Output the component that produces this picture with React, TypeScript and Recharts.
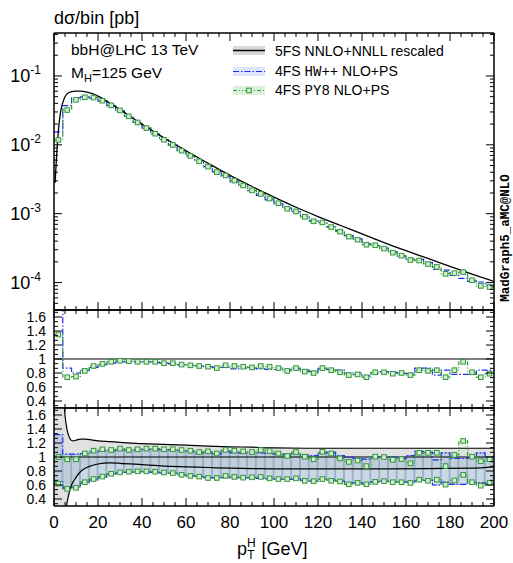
import React from 'react';
import { ComposedChart, Line, Area, Bar, Scatter, XAxis, YAxis, ReferenceLine } from 'recharts';

const FONT = '"Liberation Sans", Arial, Helvetica, sans-serif';
const MONO = '"Liberation Mono", "DejaVu Sans Mono", monospace';
const BLUE = '#1f2cf5';
const GREEN = '#2e9a36';
const W = 513;

// 4 GeV bins, 0..200
const ptEdges = [0, 4, 8, 12, 16, 20, 24, 28, 32, 36, 40, 44, 48, 52, 56, 60, 64, 68, 72, 76, 80, 84, 88, 92, 96, 100,
  104, 108, 112, 116, 120, 124, 128, 132, 136, 140, 144, 148, 152, 156, 160, 164, 168, 172, 176, 180, 184, 188, 192, 196, 200];

// main panel: d sigma / bin [pb]
const hwMain = [0.0154, 0.037, 0.048, 0.0496, 0.0475, 0.0432, 0.0367, 0.0311, 0.0256, 0.0211, 0.0175, 0.01435, 0.01184,
  0.00986, 0.00823, 0.00689, 0.00577, 0.00483, 0.00407, 0.00347, 0.0029, 0.00251, 0.00216, 0.00185, 0.00159, 0.00139,
  0.00121, 0.00107, 0.000924, 0.000795, 0.000739, 0.000648, 0.000568, 0.000482, 0.00043, 0.000365, 0.000344, 0.000316,
  0.000279, 0.000243, 0.000219, 0.000217, 0.000195, 0.000155, 0.000152, 0.000127, 0.000115, 0.000104, 0.000102, 0.0000916];
const py8Main = [0.0118, 0.032, 0.045, 0.049, 0.0486, 0.0437, 0.0374, 0.0316, 0.0259, 0.0211, 0.0175, 0.0145, 0.01184,
  0.00996, 0.00823, 0.00689, 0.00577, 0.00483, 0.00402, 0.00359, 0.00303, 0.00257, 0.00218, 0.00194, 0.00166, 0.00142,
  0.00118, 0.00108, 0.000902, 0.000776, 0.000747, 0.00064, 0.000548, 0.000464, 0.000419, 0.000355, 0.000348, 0.000312,
  0.000272, 0.000246, 0.000213, 0.000209, 0.000186, 0.000169, 0.000134, 0.000137, 0.000142, 0.000108, 0.0000895, 0.0000861];

// 5FS NNLO+NNLL curve
const curvePt = [0.5, 1, 2, 3, 4, 5, 6, 8, 10, 12, 15, 20, 25, 30, 35, 40, 45, 50, 55, 60, 70, 80, 90, 100, 110, 120, 130,
  140, 150, 160, 170, 180, 190, 200];
const curve5fs = [0.0028, 0.0055, 0.016, 0.030, 0.041, 0.050, 0.055, 0.059, 0.060, 0.060, 0.058, 0.051, 0.041, 0.0324,
  0.0254, 0.0200, 0.0158, 0.0126, 0.0102, 0.0082, 0.0054, 0.0036, 0.00248, 0.00174, 0.00124, 0.00091, 0.00068, 0.00051,
  0.00038, 0.00029, 0.000224, 0.000172, 0.000133, 0.000104];

// ratio to 5FS
const hwRatio = [1.8, 0.87, 0.80, 0.84, 0.88, 0.92, 0.94, 0.96, 0.96, 0.96, 0.96, 0.95, 0.94, 0.93, 0.92, 0.91, 0.90, 0.89,
  0.88, 0.88, 0.86, 0.87, 0.87, 0.86, 0.85, 0.85, 0.85, 0.86, 0.84, 0.82, 0.86, 0.85, 0.84, 0.80, 0.80, 0.76, 0.80, 0.82,
  0.81, 0.79, 0.79, 0.87, 0.87, 0.77, 0.84, 0.78, 0.78, 0.78, 0.84, 0.84];
const py8Ratio = [1.35, 0.74, 0.75, 0.83, 0.90, 0.93, 0.96, 0.975, 0.97, 0.96, 0.96, 0.96, 0.94, 0.94, 0.92, 0.91, 0.90,
  0.89, 0.87, 0.91, 0.90, 0.89, 0.88, 0.90, 0.89, 0.87, 0.83, 0.87, 0.82, 0.80, 0.87, 0.84, 0.81, 0.77, 0.78, 0.74, 0.81,
  0.81, 0.79, 0.80, 0.77, 0.84, 0.83, 0.84, 0.74, 0.84, 0.96, 0.81, 0.74, 0.79];

// scale uncertainty, 5FS band
const bandPt = [0, 3, 4, 5, 6, 7, 8, 9, 10, 12, 14, 17, 20, 25, 30, 40, 50, 60, 70, 80, 90, 100, 120, 140, 150, 170, 190, 200];
const bandUp = [3.0, 3.0, 2.1, 1.6, 1.38, 1.28, 1.235, 1.23, 1.24, 1.255, 1.255, 1.245, 1.23, 1.22, 1.21, 1.19, 1.18, 1.17,
  1.155, 1.145, 1.14, 1.13, 1.125, 1.125, 1.125, 1.125, 1.125, 1.125];
const bandDn = [-1, -1, -0.2, 0.15, 0.36, 0.5, 0.6, 0.66, 0.71, 0.79, 0.835, 0.875, 0.9, 0.915, 0.91, 0.89, 0.87, 0.86,
  0.85, 0.84, 0.835, 0.83, 0.83, 0.83, 0.83, 0.835, 0.84, 0.86];

// scale uncertainty, 4FS per bin
const hwUp = [1.32, 1.04, 1.04, 1.05, 1.07, 1.09, 1.09, 1.10, 1.10, 1.10, 1.11, 1.11, 1.10, 1.10, 1.09, 1.08, 1.06, 1.07,
  1.04, 1.08, 1.06, 1.06, 1.06, 1.06, 1.05, 1.04, 1.04, 1.05, 1.03, 1.02, 1.06, 1.07, 1.02, 1.0, 0.98, 0.97, 1.0, 1.01,
  1.0, 0.98, 1.02, 1.08, 1.07, 0.96, 1.06, 0.98, 0.98, 0.99, 1.06, 1.0];
const hwDn = [0.65, 0.56, 0.57, 0.63, 0.67, 0.71, 0.75, 0.77, 0.78, 0.785, 0.785, 0.78, 0.77, 0.765, 0.745, 0.73, 0.72,
  0.705, 0.70, 0.705, 0.70, 0.70, 0.70, 0.695, 0.685, 0.68, 0.68, 0.685, 0.665, 0.655, 0.68, 0.67, 0.655, 0.63, 0.63,
  0.615, 0.64, 0.655, 0.645, 0.64, 0.64, 0.66, 0.665, 0.60, 0.64, 0.61, 0.61, 0.63, 0.63, 0.62];
const py8Up = [1.0, 0.967, 0.967, 1.05, 1.09, 1.11, 1.10, 1.12, 1.10, 1.11, 1.12, 1.12, 1.11, 1.11, 1.10, 1.09, 1.07,
  1.08, 1.05, 1.10, 1.09, 1.08, 1.07, 1.10, 1.085, 1.05, 1.015, 1.07, 1.005, 0.967, 1.075, 1.05, 0.98, 0.93, 0.95, 0.87,
  1.005, 1.0, 0.96, 0.97, 0.91, 1.06, 1.06, 1.06, 0.87, 1.03, 1.23, 1.005, 0.94, 0.967];
const py8Dn = [0.62, 0.545, 0.56, 0.64, 0.685, 0.72, 0.76, 0.78, 0.79, 0.795, 0.795, 0.79, 0.78, 0.77, 0.745, 0.73, 0.72,
  0.70, 0.70, 0.73, 0.715, 0.705, 0.71, 0.715, 0.695, 0.685, 0.685, 0.695, 0.66, 0.655, 0.685, 0.66, 0.65, 0.61, 0.63,
  0.61, 0.645, 0.655, 0.64, 0.64, 0.63, 0.675, 0.66, 0.675, 0.605, 0.665, 0.745, 0.64, 0.59, 0.63];

// axes
const xMajor = [0, 20, 40, 60, 80, 100, 120, 140, 160, 180, 200];
const xMajorLabels = ['0', '20', '40', '60', '80', '100', '120', '140', '160', '180', '200'];
const mainMajor = [1e-4, 1e-3, 1e-2, 1e-1];
const mainMajorLabels = ['-4', '-3', '-2', '-1'];
const ratioMajor = [0.4, 0.6, 0.8, 1, 1.2, 1.4, 1.6];
const ratioMajorLabels = ['0.4', '0.6', '0.8', '1', '1.2', '1.4', '1.6'];
const MAIN_DOMAIN: [number, number] = [4e-5, 0.42];
const RATIO_DOMAIN: [number, number] = [0.3, 1.7];

const xTicks = Array.from({ length: 41 }, (_, i) => i * 5);
const logTicks: number[] = [];
for (const d of [-5, -4, -3, -2, -1]) {
  for (let k = 1; k <= 9; k++) {
    const v = +(k * Math.pow(10, d)).toPrecision(2);
    if (v >= MAIN_DOMAIN[0] && v <= MAIN_DOMAIN[1]) logTicks.push(v);
  }
}
const ratioTicks = Array.from({ length: 21 }, (_, i) => +(1 / 3 + (i * 0.2) / 3).toFixed(4));

// rows
const last = (arr: number[], i: number) => arr[Math.min(i, arr.length - 1)];
const stepRows = (vals: number[]) => ptEdges.map((x, i) => ({ x, y: last(vals, i) }));
const stepRangeRows = (lo: number[], hi: number[]) => ptEdges.map((x, i) => ({ x, y: [last(lo, i), last(hi, i)] }));
const centerRows = (vals: number[]) => vals.map((y, i) => ({ x: (ptEdges[i] + ptEdges[i + 1]) / 2, y }));
const curveRows = curvePt.map((x, i) => ({ x, y: curve5fs[i] }));
const bandRows = bandPt.map((x, i) => ({ x, y: [bandDn[i], bandUp[i]] }));
const bandUpRows = bandPt.map((x, i) => ({ x, y: bandUp[i] }));
const bandDnRows = bandPt.map((x, i) => ({ x, y: bandDn[i] }));
const binRows = hwDn.map((l, i) => ({ x: (ptEdges[i] + ptEdges[i + 1]) / 2, hw: [l, hwUp[i]] }));

const isMajor = (list: number[], v: number) => list.findIndex((m) => Math.abs(m - v) <= Math.abs(m) * 1e-6 + 1e-9);

const bottomTick = (withLabel: boolean) => (p: any) => {
  const idx = isMajor(xMajor, p.payload.value);
  return (
    <g>
      <line x1={p.x} x2={p.x} y1={p.y} y2={p.y - (idx >= 0 ? 8 : 4)} stroke="#000" />
      {withLabel && idx >= 0 && (
        <text x={p.x} y={p.y + 22} textAnchor="middle" fontSize={17} fontFamily={FONT} fill="#000">
          {xMajorLabels[idx]}
        </text>
      )}
    </g>
  );
};
const topTick = (p: any) => {
  const major = isMajor(xMajor, p.payload.value) >= 0;
  return <line x1={p.x} x2={p.x} y1={p.y} y2={p.y + (major ? 8 : 4)} stroke="#000" />;
};
const logLeftTick = (p: any) => {
  const idx = isMajor(mainMajor, p.payload.value);
  return (
    <g>
      <line x1={p.x} x2={p.x + (idx >= 0 ? 8 : 4)} y1={p.y} y2={p.y} stroke="#000" />
      {idx >= 0 && (
        <text x={p.x - 13} y={p.y + 6} textAnchor="end" fontSize={18} fontFamily={FONT} fill="#000">
          10<tspan dy={-8} fontSize={12}>{mainMajorLabels[idx]}</tspan>
        </text>
      )}
    </g>
  );
};
const logRightTick = (p: any) => {
  const major = isMajor(mainMajor, p.payload.value) >= 0;
  return <line x1={p.x} x2={p.x - (major ? 8 : 4)} y1={p.y} y2={p.y} stroke="#000" />;
};
const ratioLeftTick = (p: any) => {
  const idx = isMajor(ratioMajor, p.payload.value);
  return (
    <g>
      <line x1={p.x} x2={p.x + (idx >= 0 ? 8 : 4)} y1={p.y} y2={p.y} stroke="#000" />
      {idx >= 0 && (
        <text x={p.x - 8} y={p.y + 5} textAnchor="end" fontSize={14} fontFamily={FONT} fill="#000">
          {ratioMajorLabels[idx]}
        </text>
      )}
    </g>
  );
};
const ratioRightTick = (p: any) => {
  const major = isMajor(ratioMajor, p.payload.value) >= 0;
  return <line x1={p.x} x2={p.x - (major ? 8 : 4)} y1={p.y} y2={p.y} stroke="#000" />;
};

const square = (p: any) => (
  <rect x={p.cx - 2.3} y={p.cy - 2.3} width={4.6} height={4.6} fill="#d5ebd0" stroke={GREEN} strokeWidth={1} />
);

const frame = { stroke: '#000', strokeWidth: 1.5 };
const Y_W = 54;
// axes get 1px so that recharts still draws them
const AX = 1;
const MARGIN_R = 19 - AX;
const PLOT_W = W - Y_W - MARGIN_R - AX;
const BIN_PX = PLOT_W / (ptEdges.length - 1);

function xAxes(withLabels: boolean) {
  return [
    <XAxis key="xb" dataKey="x" type="number" domain={[0, 200]} allowDataOverflow ticks={xTicks} interval={0}
      height={AX} tickSize={0} tickMargin={0} tickLine={false} axisLine={frame} tick={bottomTick(withLabels)} />,
    <XAxis key="xt" xAxisId="top" orientation="top" dataKey="x" type="number" domain={[0, 200]} allowDataOverflow
      ticks={xTicks} interval={0} height={AX} tickSize={0} tickMargin={0} tickLine={false} axisLine={frame} tick={topTick} />,
  ];
}

function ratioYAxes() {
  return [
    <YAxis key="yl" dataKey="y" type="number" domain={RATIO_DOMAIN} allowDataOverflow ticks={ratioTicks} interval={0}
      width={Y_W} tickSize={0} tickMargin={0} tickLine={false} axisLine={frame} tick={ratioLeftTick} />,
    <YAxis key="yr" yAxisId="right" orientation="right" dataKey="y" type="number" domain={RATIO_DOMAIN} allowDataOverflow
      ticks={ratioTicks} interval={0} width={AX} tickSize={0} tickMargin={0} tickLine={false} axisLine={frame}
      tick={ratioRightTick} />,
  ];
}

const blueLine = { stroke: BLUE, strokeWidth: 1.2, strokeDasharray: '6 2 1.5 2' };
const greenLine = { stroke: GREEN, strokeWidth: 1.2, strokeDasharray: '4 2 1 2 1 2' };

export default function App() {
  return (
    <div style={{ position: 'absolute', left: 0, top: 0, width: W, height: 563, background: '#fff', fontFamily: FONT }}>
      {/* main panel */}
      <div style={{ position: 'absolute', left: 0, top: 0 }}>
        <ComposedChart width={W} height={312} margin={{ top: 33 - AX, right: MARGIN_R, bottom: 2 - AX, left: 0 }}>
          {xAxes(false)}
          <YAxis dataKey="y" type="number" scale="log" domain={MAIN_DOMAIN} allowDataOverflow ticks={logTicks} interval={0}
            width={Y_W} tickSize={0} tickMargin={0} tickLine={false} axisLine={frame} tick={logLeftTick} />
          <YAxis yAxisId="right" orientation="right" dataKey="y" type="number" scale="log" domain={MAIN_DOMAIN}
            allowDataOverflow ticks={logTicks} interval={0} width={AX} tickSize={0} tickMargin={0} tickLine={false}
            axisLine={frame} tick={logRightTick} />
          <Line data={stepRows(hwMain)} dataKey="y" type="stepAfter" {...blueLine} dot={false} isAnimationActive={false} />
          <Line data={stepRows(py8Main)} dataKey="y" type="stepAfter" {...greenLine} dot={false} isAnimationActive={false} />
          <Scatter data={centerRows(py8Main)} dataKey="y" shape={square} isAnimationActive={false} />
          <Line data={curveRows} dataKey="y" type="monotone" stroke="#000" strokeWidth={1.3} dot={false}
            isAnimationActive={false} />
        </ComposedChart>
      </div>

      {/* ratio to 5FS */}
      <div style={{ position: 'absolute', left: 0, top: 300 }}>
        <ComposedChart width={W} height={118} margin={{ top: 10 - AX, right: MARGIN_R, bottom: 10 - AX, left: 0 }}>
          {xAxes(false)}
          {ratioYAxes()}
          <ReferenceLine y={1} stroke="#000" strokeWidth={1.2} />
          <Line data={stepRows(hwRatio)} dataKey="y" type="stepAfter" {...blueLine} dot={false} isAnimationActive={false} />
          <Line data={stepRows(py8Ratio)} dataKey="y" type="stepAfter" {...greenLine} dot={false} isAnimationActive={false} />
          <Scatter data={centerRows(py8Ratio)} dataKey="y" shape={square} isAnimationActive={false} />
        </ComposedChart>
      </div>

      {/* scale uncertainties */}
      <div style={{ position: 'absolute', left: 0, top: 398 }}>
        <ComposedChart width={W} height={165} data={binRows}
          margin={{ top: 10 - AX, right: MARGIN_R, bottom: 57 - AX, left: 0 }} barCategoryGap={0} barGap={0}>
          {xAxes(true)}
          {ratioYAxes()}
          <XAxis xAxisId="bb" dataKey="x" type="number" domain={[0, 200]} allowDataOverflow hide />
          <Area data={bandRows} dataKey="y" type="monotone" stroke="none" fill="#dedede" fillOpacity={0.9}
            isAnimationActive={false} />
          <Area data={stepRangeRows(py8Dn, py8Up)} dataKey="y" type="stepAfter" stroke="none" fill="#cfe8c9"
            fillOpacity={0.4} isAnimationActive={false} />
          <Area data={stepRangeRows(hwDn, hwUp)} dataKey="y" type="stepAfter" stroke="none" fill="#9fb3d9"
            fillOpacity={0.45} isAnimationActive={false} />
          <Bar xAxisId="bb" dataKey="hw" barSize={BIN_PX} fill="none" stroke="#8ea3c9" strokeWidth={0.8}
            isAnimationActive={false} />
          <Line data={bandUpRows} dataKey="y" type="monotone" stroke="#000" strokeWidth={1.2} dot={false}
            isAnimationActive={false} />
          <Line data={bandDnRows} dataKey="y" type="monotone" stroke="#000" strokeWidth={1.2} dot={false}
            isAnimationActive={false} />
          <ReferenceLine y={1} stroke="#000" strokeWidth={1.2} />
          <Line data={stepRows(hwUp)} dataKey="y" type="stepAfter" {...blueLine} dot={false} isAnimationActive={false} />
          <Line data={stepRows(hwDn)} dataKey="y" type="stepAfter" {...blueLine} dot={false} isAnimationActive={false} />
          <Line data={stepRows(py8Up)} dataKey="y" type="stepAfter" {...greenLine} dot={false} isAnimationActive={false} />
          <Line data={stepRows(py8Dn)} dataKey="y" type="stepAfter" {...greenLine} dot={false} isAnimationActive={false} />
          <Scatter data={centerRows(py8Up)} dataKey="y" shape={square} isAnimationActive={false} />
          <Scatter data={centerRows(py8Dn)} dataKey="y" shape={square} isAnimationActive={false} />
        </ComposedChart>
      </div>

      {/* texts and legend */}
      <svg width={W} height={563} style={{ position: 'absolute', left: 0, top: 0, pointerEvents: 'none' }}>
        <g fontFamily={FONT} fill="#000">
          <text x={54} y={24} fontSize={18}>dσ/bin [pb]</text>
          <text x={71} y={55} fontSize={15.5}>bbH@LHC 13 TeV</text>
          <text x={71} y={78} fontSize={15.5}>
            M<tspan fontSize={11} dy={4}>H</tspan><tspan dy={-4}>=125 GeV</tspan>
          </text>

          <rect x={233} y={46} width={32} height={9} fill="#d9d9d9" />
          <line x1={233} x2={265} y1={50.5} y2={50.5} stroke="#000" strokeWidth={1.5} />
          <text x={275} y={56} fontSize={14}>5FS NNLO+NNLL rescaled</text>

          <rect x={233} y={67} width={32} height={9} fill="#dfe5fb" />
          <line x1={233} x2={265} y1={71.5} y2={71.5} {...blueLine} />
          <text x={275} y={76} fontSize={14}>
            4FS <tspan fontFamily={MONO}>HW++</tspan> NLO+PS
          </text>

          <rect x={233} y={86} width={32} height={9} fill="#dcefd8" />
          <line x1={233} x2={265} y1={90.5} y2={90.5} {...greenLine} />
          <rect x={246.7} y={88.2} width={4.6} height={4.6} fill="#d5ebd0" stroke={GREEN} strokeWidth={1} />
          <text x={275} y={95} fontSize={14}>
            4FS <tspan fontFamily={MONO}>PY8</tspan> NLO+PS
          </text>

          <text x={237} y={555} fontSize={18}>
            p<tspan fontSize={12} dy={-8}>H</tspan><tspan fontSize={12} dx={-8.5} dy={12}>T</tspan>
            <tspan dx={2} dy={-4}>{' [GeV]'}</tspan>
          </text>

          <text transform="translate(509,238) rotate(-90)" textAnchor="middle" fontFamily={MONO} fontWeight="bold"
            fontSize={12.5}>
            MadGraph5_aMC@NLO
          </text>
        </g>
      </svg>
    </div>
  );
}
